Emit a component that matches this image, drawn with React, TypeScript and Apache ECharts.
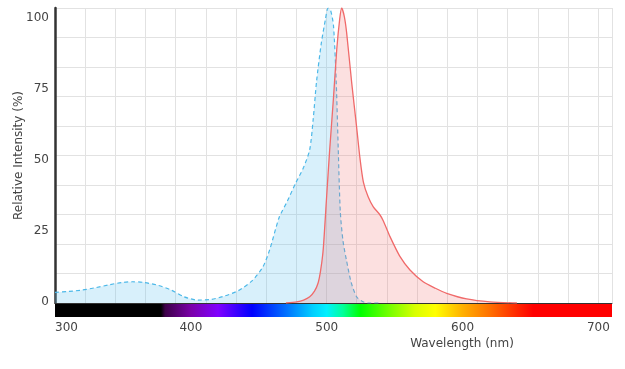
import React, { useEffect, useRef } from "react";
import * as echarts from "echarts";

// Excitation spectrum (blue, dashed)
const excitationWl = [300, 310, 320, 330, 340, 350, 357, 365, 375, 385, 395, 405, 415, 425, 435, 445, 453, 458, 465, 471, 477, 483, 487.5, 490, 492.5, 496, 499, 501, 503, 505, 507, 508.5, 510, 512, 514.5, 518, 522, 526, 530, 540];
const excitationVal = [3.6, 3.9, 4.4, 5.2, 6.2, 7.0, 7.2, 7.0, 6.1, 4.5, 2.1, 1.0, 1.2, 2.4, 4.2, 7.5, 12.2, 18, 29, 34.5, 40.5, 46, 52, 62, 75, 88, 96, 100, 99, 94, 75, 52, 31, 21, 14.6, 7, 2.1, 0.6, 0, 0];

// Emission spectrum (red, solid)
const emissionWl = [470, 478, 483, 487.5, 491, 493.6, 495.5, 497.4, 499.8, 502.2, 504.9, 507.4, 509.5, 511, 513, 514.7, 518.4, 522, 524.5, 527, 530.5, 534.3, 539, 541.7, 546.6, 554, 561.3, 571, 580, 588.3, 603, 620, 640];
const emissionVal = [0, 0.4, 1.0, 2.1, 4, 6.7, 11, 18, 35, 52, 69, 86, 96, 100, 97, 91.5, 74.6, 59.7, 49, 41, 36, 32.6, 30, 27.8, 22.5, 15.7, 11.2, 7.2, 5, 3.3, 1.4, 0.4, 0];

// Axis labels
const yTickLabels = [0, 25, 50, 75, 100];
const xMin = 300;
const xMax = 710;
const xInterval = 100;

// Visible spectrum colour strip
const spectrumWl = [300, 378, 381, 400, 420, 445, 470, 490, 500, 512, 525, 545, 565, 580, 600, 620, 640, 652, 710];
const spectrumColors = ["#000000", "#000000", "#3c0048", "#7a00a8", "#8000ff", "#0000ff", "#0070ff", "#00d0ff", "#00f0ff", "#00ff99", "#00ff00", "#70ff00", "#d8ff00", "#ffff00", "#ffb000", "#ff7000", "#ff2800", "#ff0000", "#ff0000"];

const FONT = "DejaVu Sans";

export default function App() {
  const ref = useRef<HTMLDivElement>(null);
  useEffect(() => {
    const chart = echarts.init(ref.current!, null, { renderer: "svg" });
    const first = spectrumWl[0];
    const last = spectrumWl[spectrumWl.length - 1];
    const stops = spectrumWl.map((w, i) => ({ offset: (w - first) / (last - first), color: spectrumColors[i] }));
    chart.setOption({
      animation: false,
      textStyle: { fontFamily: FONT },
      grid: [
        { left: 55, right: 13, top: 8, height: 295, outerBoundsMode: "none", containLabel: false },
        { left: 55, right: 13, top: 304, height: 13, outerBoundsMode: "none", containLabel: false },
      ],
      xAxis: [
        {
          type: "value", gridIndex: 0, min: xMin, max: xMax,
          axisLine: { show: true, onZero: false, lineStyle: { color: "#333", width: 1 } },
          axisTick: { show: false }, axisLabel: { show: false }, splitLine: { show: false },
        },
        {
          type: "value", gridIndex: 0, position: "top", min: 0, max: 18.46, interval: 1,
          axisLine: { show: false }, axisTick: { show: false }, axisLabel: { show: false },
          splitLine: { show: true, lineStyle: { color: "#e2e2e2", width: 1 } },
        },
        {
          type: "value", gridIndex: 1, min: xMin, max: xMax, interval: xInterval,
          axisLine: { show: false }, axisTick: { show: false }, splitLine: { show: false },
          axisLabel: { show: true, color: "#444", fontSize: 12, fontFamily: FONT, margin: 4, showMaxLabel: false, alignMinLabel: "left" },
          name: "Wavelength (nm)", nameLocation: "middle", nameGap: 20, nameMoveOverlap: false,
          nameTextStyle: { color: "#444", fontSize: 12, fontFamily: FONT, padding: [0, 0, 0, 257] },
        },
      ],
      yAxis: [
        {
          type: "value", gridIndex: 0, min: 0, max: 100, interval: 10,
          axisLine: { show: false }, axisTick: { show: false }, axisLabel: { show: false },
          splitLine: { show: true, lineStyle: { color: "#e2e2e2", width: 1 } },
        },
        {
          type: "value", gridIndex: 0, position: "left", min: -0.6, max: 103,
          axisLine: { show: true, lineStyle: { color: "#333", width: 2.5 } },
          axisTick: { show: false }, splitLine: { show: false },
          axisLabel: { show: true, customValues: yTickLabels, color: "#444", fontSize: 12, fontFamily: FONT, margin: 6 },
          name: "Relative Intensity (%)", nameLocation: "middle", nameGap: 31, nameMoveOverlap: false,
          nameTextStyle: { color: "#444", fontSize: 12, fontFamily: FONT },
        },
        { type: "value", gridIndex: 1, min: 0, max: 1, show: false },
      ],
      series: [
        {
          type: "line", xAxisIndex: 0, yAxisIndex: 0, name: "Excitation",
          data: excitationWl.map((w, i) => [w, excitationVal[i]]),
          smooth: 0.25, showSymbol: false, symbol: "none",
          lineStyle: { color: "#4cb8e8", width: 1.2, type: [4, 3] },
          areaStyle: { color: "rgba(110,200,240,0.38)" },
          z: 2,
        },
        {
          type: "line", xAxisIndex: 0, yAxisIndex: 0, name: "Emission",
          data: emissionWl.map((w, i) => [w, emissionVal[i]]),
          smooth: 0.25, showSymbol: false, symbol: "none",
          lineStyle: { color: "#f06a6a", width: 1.3 },
          areaStyle: { color: "rgba(240,110,110,0.3)" },
          z: 3,
        },
        {
          type: "custom", xAxisIndex: 2, yAxisIndex: 2, silent: true,
          data: [[first, 0]],
          renderItem: (_params: any, api: any) => {
            const p0 = api.coord([first, 1]);
            const p1 = api.coord([last, 0]);
            return {
              type: "rect",
              shape: { x: p0[0], y: p0[1], width: p1[0] - p0[0], height: p1[1] - p0[1] },
              style: { fill: new echarts.graphic.LinearGradient(0, 0, 1, 0, stops) },
            };
          },
        },
      ],
    });
    return () => chart.dispose();
  }, []);
  return <div ref={ref} style={{ position: "fixed", left: 0, top: 0, width: 625, height: 369 }} />;
}
